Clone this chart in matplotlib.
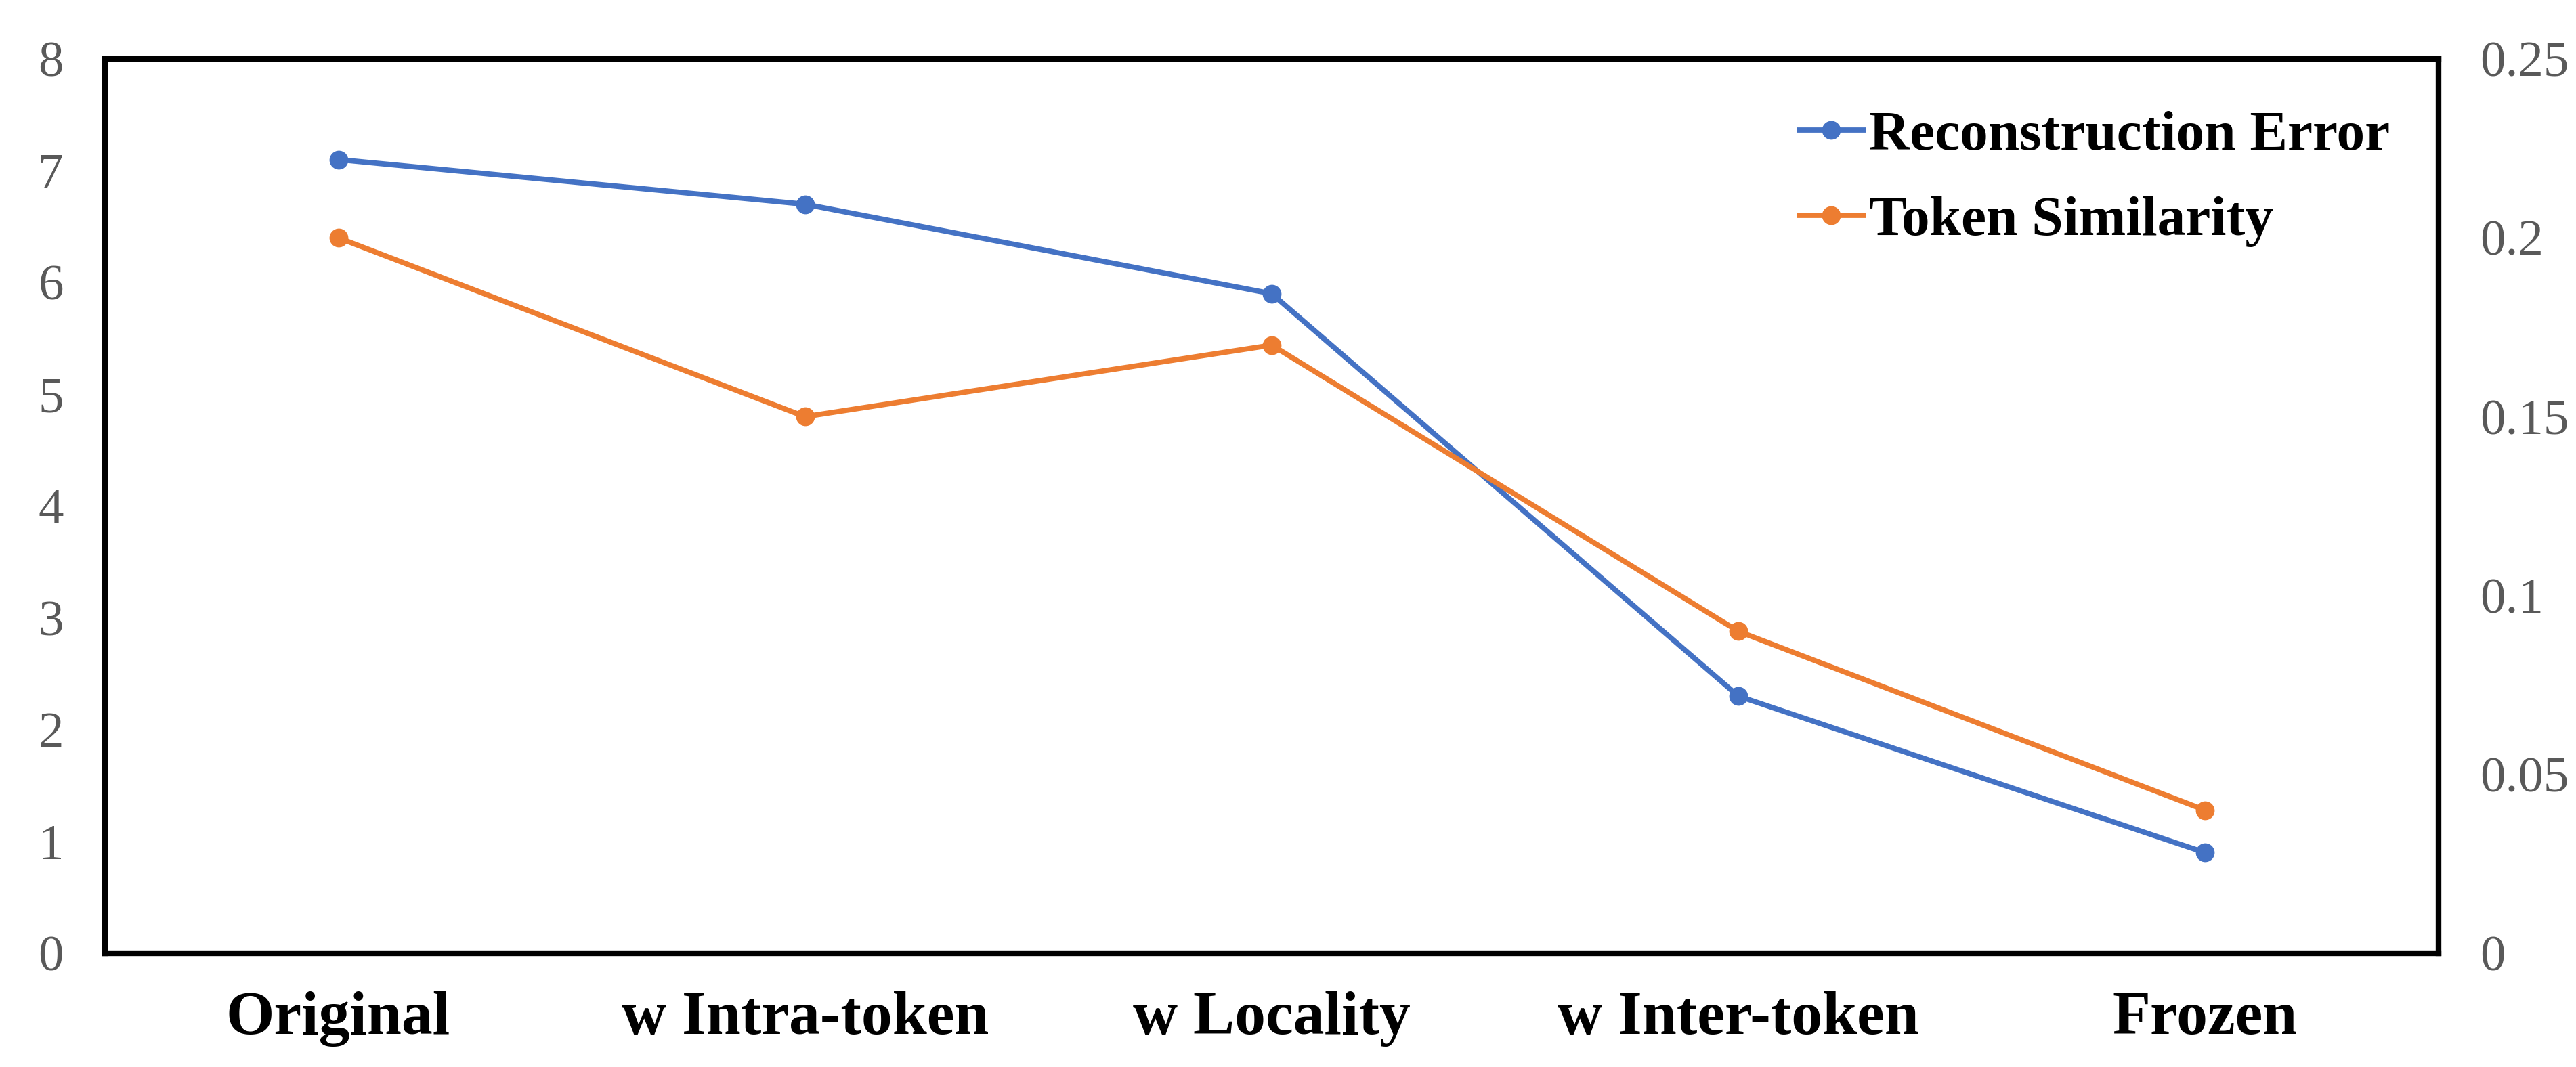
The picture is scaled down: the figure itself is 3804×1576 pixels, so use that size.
import matplotlib.pyplot as plt

# data
categories = ["Original", "w Intra-token", "w Locality", "w Inter-token", "Frozen"]
recon_error = [7.1, 6.7, 5.9, 2.3, 0.9]
token_sim = [0.20, 0.15, 0.17, 0.09, 0.04]
left_ticks = [0, 1, 2, 3, 4, 5, 6, 7, 8]
right_ticks = [0, 0.05, 0.1, 0.15, 0.2, 0.25]
right_labels = ["0", "0.05", "0.1", "0.15", "0.2", "0.25"]

blue = "#4472C4"
orange = "#ED7D31"
grey = "#595959"

plt.rcParams["font.family"] = ["Liberation Serif", "DejaVu Serif"]

fig = plt.figure(figsize=(19.02, 7.88), dpi=200)
ax = fig.add_axes([0.04075, 0.1066, 0.9466 - 0.04075, 0.9448 - 0.1066])
ax2 = ax.twinx()

x = range(len(categories))
l1, = ax.plot(x, recon_error, color=blue, lw=2.8, marker="o", ms=9,
              label="Reconstruction Error")
l2, = ax2.plot(x, token_sim, color=orange, lw=2.8, marker="o", ms=9,
               label="Token Similarity")

ax.set_xlim(-0.5, len(categories) - 0.5)
ax.set_ylim(0, 8)
ax2.set_ylim(0, 0.25)

ax.set_xticks(list(x))
ax.set_xticklabels(categories, fontsize=33, fontweight="bold")
ax.set_yticks(left_ticks)
ax.set_yticklabels([str(t) for t in left_ticks], fontsize=27, color=grey)
ax2.set_yticks(right_ticks)
ax2.set_yticklabels(right_labels, fontsize=27, color=grey)

ax.tick_params(axis="x", length=0, pad=20)
ax.tick_params(axis="y", length=0, pad=22)
ax2.tick_params(axis="y", length=0, pad=22)

for s in ax2.spines.values():
    s.set_visible(False)
for s in ax.spines.values():
    s.set_linewidth(3)
    s.set_color("black")
    s.set_capstyle("projecting")

fig.legend([l1, l2], [l1.get_label(), l2.get_label()],
           loc="center left", bbox_to_anchor=(0.6875, 0.8325),
           frameon=False, borderpad=0, handlelength=1.14, handletextpad=0.1,
           labelspacing=0.59, prop={"size": 30, "weight": "bold"})

fig.savefig("out.png", dpi=200)
